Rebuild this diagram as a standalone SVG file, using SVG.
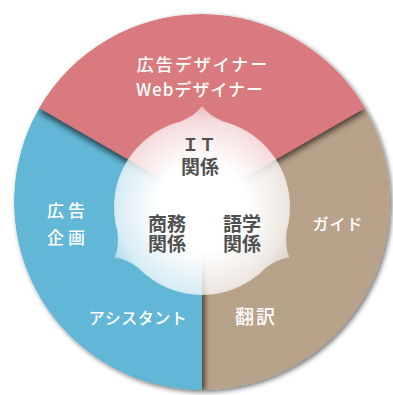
<svg xmlns="http://www.w3.org/2000/svg" width="393" height="395" viewBox="0 0 393 395">
  <style>
    .lbl { font-family: "Noto Sans CJK JP", "Noto Sans", sans-serif; fill: #ffffff; font-weight: 500; text-anchor: middle; }
    .inner { font-family: "Noto Sans CJK JP", "Noto Sans", sans-serif; fill: #505050; font-weight: bold; text-anchor: middle; }
  </style>
  <defs>
    <clipPath id="disc"><circle cx="202" cy="202" r="188"/></clipPath>
    <filter id="outerShadow" filterUnits="userSpaceOnUse" x="0" y="0" width="393" height="395">
      <feDropShadow dx="2" dy="2" stdDeviation="2.5" flood-color="#000" flood-opacity="0.55"/>
    </filter>
    <filter id="shRight" filterUnits="userSpaceOnUse" x="0" y="0" width="393" height="395">
      <feDropShadow dx="3" dy="0" stdDeviation="2.5" flood-color="#000" flood-opacity="0.6"/>
    </filter>
    <filter id="shDown" filterUnits="userSpaceOnUse" x="0" y="0" width="393" height="395">
      <feDropShadow dx="0" dy="4" stdDeviation="3" flood-color="#000" flood-opacity="0.65"/>
    </filter>
    <radialGradient id="glow" gradientUnits="userSpaceOnUse" cx="202" cy="207" r="100">
      <stop offset="0" stop-color="#fff" stop-opacity="1"/>
      <stop offset="0.45" stop-color="#fff" stop-opacity="1"/>
      <stop offset="0.85" stop-color="#fff" stop-opacity="0.75"/>
      <stop offset="1" stop-color="#fff" stop-opacity="0.5"/>
    </radialGradient>
  </defs>

  <g filter="url(#outerShadow)">
    <g clip-path="url(#disc)">
      <g id="sector-language">
        <path d="M202,202 L364.81,108 A188,188 0 0 1 202,390 Z" fill="#b9a28a"/>
      </g>
      <g id="sector-business" filter="url(#shRight)">
        <path d="M202,202 L202,390 A188,188 0 0 1 39.19,108 Z" fill="#63b7d6"/>
      </g>
      <g id="sector-it" filter="url(#shDown)">
        <path d="M202,202 L39.19,108 A188,188 0 0 1 364.81,108 Z" fill="#d97a7e"/>
      </g>
    </g>
  </g>

  <g id="center">
    <path fill="url(#glow)" d="M180.71,121.61 Q195.58,115.22 202,106 Q208.42,115.22 223.29,121.61 A88,88 0 0 1 286.59,231.26 Q284.69,247.33 289.47,257.5 Q278.27,258.45 265.30,268.13 A88,88 0 0 1 138.70,268.13 Q125.73,258.45 114.53,257.5 Q119.31,247.33 117.41,231.26 A88,88 0 0 1 180.71,121.61 Z"/>
    <text class="inner" font-size="19"><tspan x="199" y="151" font-size="17">ＩＴ</tspan><tspan x="200" y="174">関係</tspan></text>
    <text class="inner" font-size="19"><tspan x="167" y="231">商務</tspan><tspan x="167" y="251">関係</tspan></text>
    <text class="inner" font-size="19"><tspan x="242" y="231">語学</tspan><tspan x="242" y="251">関係</tspan></text>
  </g>

  <g id="label-it">
    <text class="lbl" x="203" y="71" font-size="17" letter-spacing="2">広告デザイナー</text>
    <text class="lbl" x="200" y="96" font-size="17" letter-spacing="1">Webデザイナー</text>
  </g>
  <g id="label-business">
    <text class="lbl" x="68" y="217" font-size="17" letter-spacing="4">広告</text>
    <text class="lbl" x="68" y="244" font-size="17" letter-spacing="4">企画</text>
    <text class="lbl" x="138" y="324" font-size="16" letter-spacing="0.5">アシスタント</text>
  </g>
  <g id="label-language">
    <text class="lbl" x="338" y="230" font-size="16" letter-spacing="1">ガイド</text>
    <text class="lbl" x="256" y="324" font-size="19" letter-spacing="2">翻訳</text>
  </g>
</svg>
